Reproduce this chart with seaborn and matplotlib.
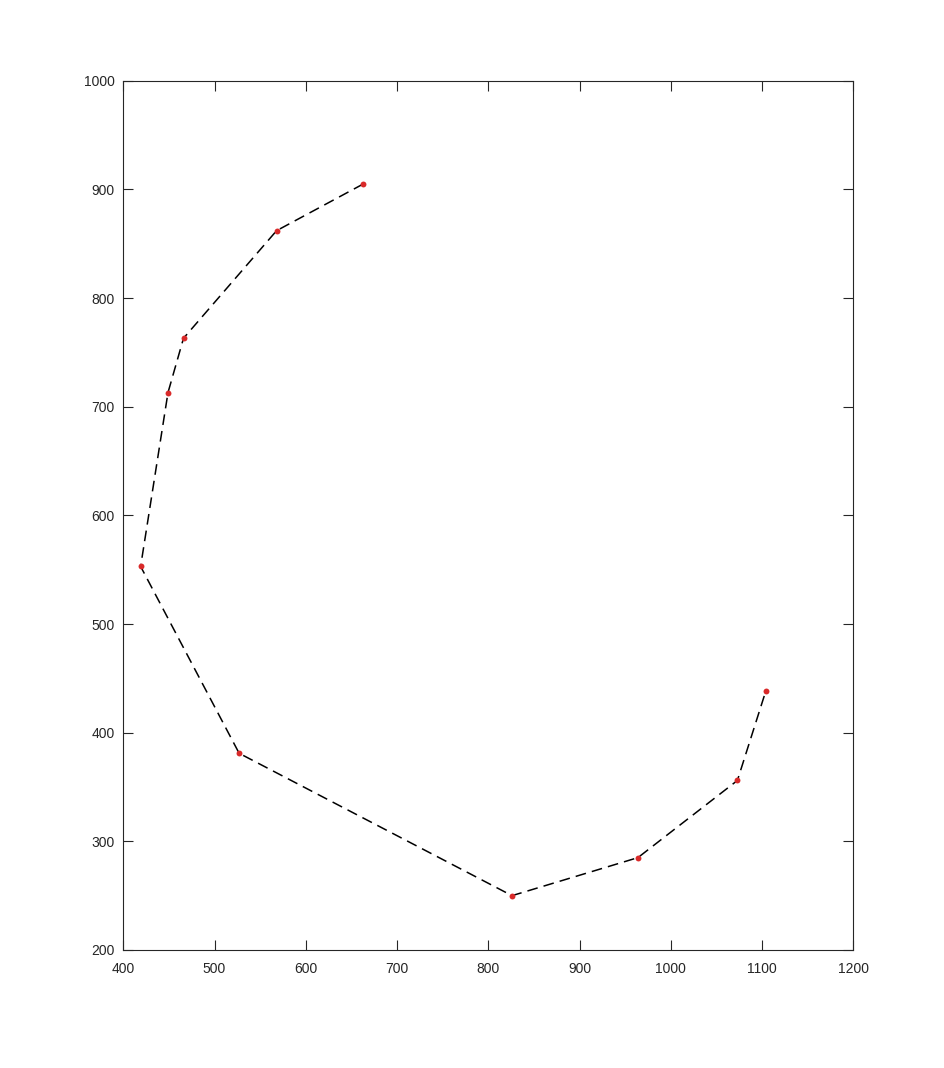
import pandas as pd
import matplotlib
matplotlib.use("Agg")
import matplotlib.pyplot as plt
import seaborn as sns

# points (path order)
x_vals = [663, 568, 466, 449, 419, 527, 826, 964, 1073, 1104]
y_vals = [905, 862, 763, 713, 553, 381, 250, 285, 356, 438]

df = pd.DataFrame({"x": x_vals, "y": y_vals, "order": range(len(x_vals))})

sns.set_theme(style="white")
plt.rcParams["font.family"] = ["Liberation Sans", "DejaVu Sans"]

fig = plt.figure(figsize=(9.44, 10.68), dpi=100)
ax = fig.add_axes([0.1306, 0.1105, 0.7733, 0.8139])

# dashed path, then the red points on top
sns.lineplot(data=df, x="x", y="y", sort=False, estimator=None,
             color="black", linestyle=(0, (7, 4)), linewidth=1.1, ax=ax)
sns.scatterplot(data=df, x="x", y="y", color="#d92a2a", s=18,
                edgecolor="#d92a2a", linewidth=0, zorder=3, ax=ax)

ax.set_xlim(400, 1200)
ax.set_ylim(200, 1000)
ax.set_xticks(range(400, 1201, 100))
ax.set_yticks(range(200, 1001, 100))
ax.set_xlabel("")
ax.set_ylabel("")

for s in ax.spines.values():
    s.set_visible(True)
    s.set_color("#262626")
    s.set_linewidth(0.8)
ax.tick_params(direction="in", length=7, width=0.8, color="#262626",
               labelcolor="#262626", labelsize=10,
               top=True, right=True, bottom=True, left=True)
ax.tick_params(axis="x", pad=9)
ax.tick_params(axis="y", pad=6)

fig.savefig("out.png", dpi=100)
plt.close(fig)
